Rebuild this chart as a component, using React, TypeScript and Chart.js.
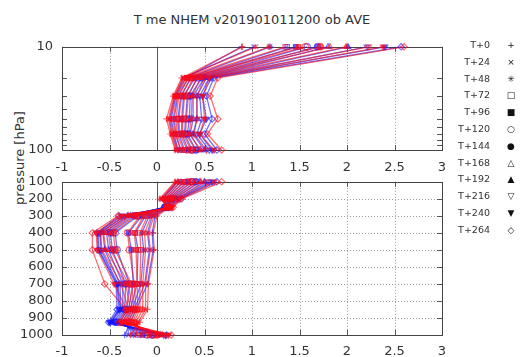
import React, { useEffect, useRef } from "react";
import { Chart, registerables } from "chart.js";
Chart.register(...registerables);

const TITLE = "T me NHEM v201901011200 ob AVE";
const Y_TITLE = "pressure [hPa]";
const leadTimes = ["T+0", "T+24", "T+48", "T+72", "T+96", "T+120", "T+144", "T+168", "T+192", "T+216", "T+240", "T+264"];
const pointStyles = ["cross", "crossRot", "star", "rect", "rect", "circle", "circle", "triangle", "triangle", "triangle", "triangle", "rectRot"];
const pointFilled = [false, false, false, false, true, false, true, false, true, false, true, false];
const pointRotations = [0, 0, 0, 0, 0, 0, 0, 0, 0, 180, 180, 0];
const legendGlyphs = ["+", "×", "✳", "□", "■", "○", "●", "△", "▲", "▽", "▼", "◇"];

const xTickValues = [-1, -0.5, 0, 0.5, 1, 1.5, 2, 2.5, 3];
const topLevels = [10, 20, 30, 50, 70, 100];
const topTickLabels = [10, 100];
const topMinorTicks = [20, 30, 40, 50, 60, 70, 80, 90];
const bottomLevels = [100, 200, 250, 300, 400, 500, 700, 850, 925, 1000];
const bottomTickLabels = [100, 200, 300, 400, 500, 600, 700, 800, 900, 1000];
const bottomGridLines = [200, 300, 400, 500, 600, 700, 800, 900];

// rows = pressure levels, columns = lead times T+0 .. T+264
const blueTop = [
  [0.89, 1.02, 1.19, 1.37, 1.46, 1.58, 1.69, 1.8, 2.01, 2.21, 2.4, 2.57],
  [0.3, 0.28, 0.33, 0.36, 0.4, 0.43, 0.47, 0.5, 0.52, 0.55, 0.57, 0.6],
  [0.2, 0.19, 0.22, 0.25, 0.28, 0.32, 0.35, 0.38, 0.42, 0.45, 0.48, 0.52],
  [0.15, 0.13, 0.18, 0.22, 0.26, 0.3, 0.34, 0.38, 0.42, 0.47, 0.52, 0.58],
  [0.18, 0.16, 0.2, 0.23, 0.26, 0.29, 0.32, 0.35, 0.38, 0.42, 0.45, 0.5],
  [0.22, 0.21, 0.25, 0.29, 0.33, 0.37, 0.41, 0.45, 0.5, 0.55, 0.58, 0.63],
];
const redTop = [
  [0.9, 1.04, 1.18, 1.35, 1.49, 1.56, 1.72, 1.82, 1.99, 2.23, 2.38, 2.6],
  [0.26, 0.27, 0.29, 0.31, 0.33, 0.35, 0.38, 0.42, 0.46, 0.5, 0.55, 0.64],
  [0.17, 0.18, 0.19, 0.21, 0.23, 0.26, 0.29, 0.33, 0.37, 0.42, 0.48, 0.56],
  [0.1, 0.12, 0.14, 0.17, 0.2, 0.23, 0.27, 0.31, 0.36, 0.42, 0.5, 0.64],
  [0.14, 0.15, 0.17, 0.19, 0.21, 0.24, 0.27, 0.3, 0.34, 0.39, 0.45, 0.53],
  [0.19, 0.2, 0.22, 0.25, 0.28, 0.32, 0.36, 0.41, 0.46, 0.52, 0.6, 0.68],
];
const blueBottom = [
  [0.22, 0.21, 0.25, 0.29, 0.33, 0.37, 0.41, 0.45, 0.5, 0.55, 0.58, 0.63],
  [0.06, 0.05, 0.08, 0.1, 0.12, 0.14, 0.16, 0.18, 0.2, 0.22, 0.23, 0.25],
  [0.12, 0.11, 0.1, 0.09, 0.1, 0.08, 0.09, 0.07, 0.08, 0.1, 0.12, 0.14],
  [-0.02, -0.05, -0.08, -0.12, -0.16, -0.2, -0.24, -0.28, -0.31, -0.34, -0.37, -0.4],
  [-0.05, -0.1, -0.16, -0.23, -0.3, -0.44, -0.49, -0.53, -0.57, -0.6, -0.62, -0.63],
  [-0.04, -0.08, -0.14, -0.2, -0.27, -0.42, -0.47, -0.51, -0.55, -0.59, -0.61, -0.62],
  [-0.1, -0.13, -0.17, -0.21, -0.25, -0.29, -0.33, -0.36, -0.39, -0.41, -0.42, -0.43],
  [-0.22, -0.24, -0.26, -0.28, -0.3, -0.32, -0.34, -0.36, -0.38, -0.39, -0.4, -0.42],
  [-0.28, -0.31, -0.34, -0.37, -0.4, -0.42, -0.44, -0.46, -0.48, -0.49, -0.5, -0.51],
  [-0.34, -0.3, -0.25, -0.2, -0.15, -0.1, -0.05, 0.0, 0.04, 0.07, 0.09, 0.1],
];
const redBottom = [
  [0.19, 0.2, 0.22, 0.25, 0.28, 0.32, 0.36, 0.41, 0.46, 0.52, 0.6, 0.68],
  [0.03, 0.04, 0.06, 0.08, 0.1, 0.12, 0.14, 0.16, 0.18, 0.21, 0.24, 0.26],
  [0.13, 0.12, 0.11, 0.1, 0.09, 0.11, 0.12, 0.13, 0.14, 0.15, 0.16, 0.17],
  [0.0, -0.03, -0.06, -0.1, -0.14, -0.18, -0.22, -0.26, -0.3, -0.34, -0.38, -0.41],
  [-0.04, -0.09, -0.13, -0.18, -0.24, -0.31, -0.46, -0.51, -0.56, -0.6, -0.64, -0.68],
  [-0.03, -0.07, -0.12, -0.17, -0.22, -0.29, -0.44, -0.49, -0.54, -0.58, -0.63, -0.68],
  [-0.09, -0.12, -0.15, -0.18, -0.21, -0.24, -0.27, -0.3, -0.33, -0.38, -0.45, -0.55],
  [-0.1, -0.12, -0.15, -0.18, -0.2, -0.22, -0.24, -0.26, -0.28, -0.3, -0.32, -0.33],
  [-0.18, -0.2, -0.22, -0.24, -0.26, -0.28, -0.3, -0.32, -0.34, -0.36, -0.38, -0.4],
  [-0.28, -0.22, -0.17, -0.12, -0.08, -0.04, 0.0, 0.03, 0.06, 0.09, 0.12, 0.15],
];

const BLUE = "rgba(20,20,255,0.6)";
const RED = "rgba(255,10,20,0.6)";
const FONT = "DejaVu Sans";

// Chart.js paints dataset 0 last (on top), so red goes first.
function buildDatasets(levels: number[], blue: number[][], red: number[][]) {
  const out: any[] = [];
  [
    [red, RED],
    [blue, BLUE],
  ].forEach(([vals, col]: any) => {
    leadTimes.forEach((lt, i) => {
      out.push({
        label: lt,
        data: levels.map((p, k) => ({ x: vals[k][i], y: p })),
        showLine: true,
        borderColor: col,
        backgroundColor: col,
        borderWidth: 1.3,
        pointStyle: pointStyles[i],
        pointRotation: pointRotations[i],
        pointRadius: 3.2,
        pointBorderWidth: 1.2,
        pointBorderColor: col,
        pointBackgroundColor: pointFilled[i] ? col : "rgba(255,255,255,0)",
        clip: false,
      });
    });
  });
  return out;
}

const framePlugin = {
  id: "frame",
  beforeDatasetsDraw(chart: any, _args: any, opts: any) {
    const { ctx, chartArea: a, scales } = chart;
    const xs = scales.x;
    const ys = scales.y;
    ctx.save();
    ctx.lineWidth = 1;
    ctx.strokeStyle = "#9a9a9a";
    ctx.setLineDash([1, 2]);
    xTickValues.forEach((v) => {
      if (v === -1 || v === 0 || v === 3) return;
      const px = Math.round(xs.getPixelForValue(v)) + 0.5;
      ctx.beginPath();
      ctx.moveTo(px, a.top);
      ctx.lineTo(px, a.bottom);
      ctx.stroke();
    });
    (opts.hGrid || []).forEach((v: number) => {
      const py = Math.round(ys.getPixelForValue(v)) + 0.5;
      ctx.beginPath();
      ctx.moveTo(a.left, py);
      ctx.lineTo(a.right, py);
      ctx.stroke();
    });
    ctx.setLineDash([]);
    ctx.strokeStyle = "#555";
    const z = Math.round(xs.getPixelForValue(0)) + 0.5;
    ctx.beginPath();
    ctx.moveTo(z, a.top);
    ctx.lineTo(z, a.bottom);
    ctx.stroke();
    const L = 5;
    xTickValues.forEach((v) => {
      const px = Math.round(xs.getPixelForValue(v)) + 0.5;
      ctx.beginPath();
      ctx.moveTo(px, a.top);
      ctx.lineTo(px, a.top + L);
      ctx.moveTo(px, a.bottom);
      ctx.lineTo(px, a.bottom - L);
      ctx.stroke();
    });
    (opts.yMarks || []).forEach((v: number) => {
      const py = Math.round(ys.getPixelForValue(v)) + 0.5;
      ctx.beginPath();
      ctx.moveTo(a.left, py);
      ctx.lineTo(a.left + L, py);
      ctx.moveTo(a.right, py);
      ctx.lineTo(a.right - L, py);
      ctx.stroke();
    });
    ctx.strokeStyle = "#444";
    ctx.strokeRect(Math.round(a.left) + 0.5, Math.round(a.top) + 0.5, Math.round(a.right - a.left), Math.round(a.bottom - a.top));
    ctx.restore();
  },
};

function makeOptions(kind: "top" | "bottom"): any {
  const isTop = kind === "top";
  return {
    responsive: false,
    animation: false,
    devicePixelRatio: 1,
    layout: { padding: { top: isTop ? 15 : 10, right: 18, left: 0, bottom: 0 } },
    plugins: {
      legend: { display: false },
      tooltip: { enabled: false },
      title: { display: false },
      frame: isTop ? { hGrid: [], yMarks: topMinorTicks } : { hGrid: bottomGridLines, yMarks: bottomGridLines },
    },
    scales: {
      x: {
        type: "linear",
        min: -1,
        max: 3,
        position: "bottom",
        grid: { display: false, drawTicks: false },
        border: { display: false },
        afterBuildTicks: (s: any) => {
          s.ticks = xTickValues.map((v) => ({ value: v }));
        },
        afterFit: (s: any) => {
          s.height = isTop ? 25 : 22;
        },
        ticks: {
          autoSkip: false,
          maxRotation: 0,
          padding: isTop ? 10 : 9,
          color: "#333",
          font: { family: FONT, size: 13 },
          callback: (v: any) => String(v),
        },
      },
      y: {
        type: isTop ? "logarithmic" : "linear",
        min: isTop ? 10 : 100,
        max: isTop ? 100 : 1000,
        reverse: true,
        grid: { display: false, drawTicks: false },
        border: { display: false },
        afterBuildTicks: (s: any) => {
          s.ticks = (isTop ? topTickLabels : bottomTickLabels).map((v) => ({ value: v }));
        },
        afterFit: (s: any) => {
          s.width = 62;
        },
        ticks: {
          autoSkip: false,
          padding: 9,
          color: "#333",
          font: { family: FONT, size: 13 },
          callback: (v: any) => String(v),
        },
      },
    },
  };
}

function Panel({ kind, top, height }: { kind: "top" | "bottom"; top: number; height: number }) {
  const ref = useRef<HTMLCanvasElement | null>(null);
  useEffect(() => {
    if (!ref.current) return;
    const isTop = kind === "top";
    const chart = new Chart(ref.current, {
      type: "scatter",
      data: {
        datasets: isTop ? buildDatasets(topLevels, blueTop, redTop) : buildDatasets(bottomLevels, blueBottom, redBottom),
      },
      options: makeOptions(kind),
      plugins: [framePlugin],
    } as any);
    return () => chart.destroy();
  }, [kind]);
  return (
    <canvas
      ref={ref}
      width={460}
      height={height}
      style={{ position: "absolute", left: 0, top, width: 460, height }}
    />
  );
}

export default function App() {
  return (
    <div style={{ position: "fixed", left: 0, top: 0, width: 523, height: 357, background: "#fff", overflow: "hidden", fontFamily: FONT }}>
      <div style={{ position: "absolute", left: 0, top: 12, width: 504, textAlign: "center", fontSize: 13, lineHeight: "16px", color: "#333" }}>
        {TITLE}
      </div>
      <div
        style={{
          position: "absolute",
          left: 19,
          top: 158,
          transform: "translate(-50%,-50%) rotate(-90deg)",
          whiteSpace: "nowrap",
          fontSize: 13,
          color: "#333",
        }}
      >
        {Y_TITLE}
      </div>
      <Panel kind="top" top={30} height={145} />
      <Panel kind="bottom" top={165} height={192} />
      {leadTimes.map((lt, i) => (
        <div key={lt} style={{ position: "absolute", left: 440, top: 45 + i * 16.8 - 7, width: 80, height: 14, fontSize: 9.5, lineHeight: "14px", color: "#333" }}>
          <span style={{ position: "absolute", right: 30, top: 0 }}>{lt}</span>
          <span style={{ position: "absolute", left: 66, width: 10, textAlign: "center", top: 0, fontSize: 9, color: "#111" }}>{legendGlyphs[i]}</span>
        </div>
      ))}
    </div>
  );
}
